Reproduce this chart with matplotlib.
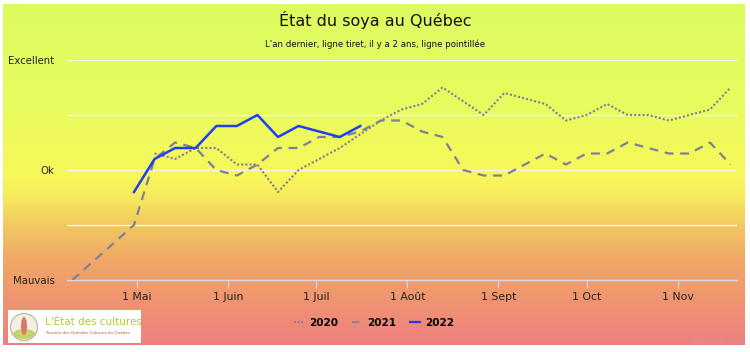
import numpy as np
import pandas as pd
import matplotlib
matplotlib.use("Agg")
import matplotlib.pyplot as plt
import matplotlib.dates as mdates
from matplotlib.colors import LinearSegmentedColormap
from matplotlib.lines import Line2D
from matplotlib.patches import Rectangle, Ellipse

plt.rcParams["font.family"] = ["DejaVu Sans"]

# -----------------------------------
# DATA (all years put on one common calendar)
# -----------------------------------

weeks = pd.date_range("2022-05-07", "2022-11-19", freq="7D")

dates_2020 = list(weeks)
vals_2020 = [2.3, 2.2, 2.4, 2.4, 2.1, 2.1, 1.6, 2.0, 2.2, 2.4, 2.65, 2.9, 3.1,
             3.2, 3.5, 3.25, 3.0, 3.4, 3.3, 3.2, 2.9, 3.0, 3.2, 3.0, 3.0, 2.9,
             3.0, 3.1, 3.5]

dates_2021 = [pd.Timestamp("2022-04-09"), pd.Timestamp("2022-04-30")] + list(weeks)
vals_2021 = [0.0, 1.0, 2.2, 2.5, 2.4, 2.0, 1.9, 2.1, 2.4, 2.4, 2.6, 2.6, 2.7,
             2.9, 2.9, 2.7, 2.6, 2.0, 1.9, 1.9, 2.1, 2.3, 2.1, 2.3, 2.3, 2.5,
             2.4, 2.3, 2.3, 2.5, 2.1]

dates_2022 = [pd.Timestamp("2022-04-30")] + list(weeks[:11])
vals_2022 = [1.6, 2.2, 2.4, 2.4, 2.8, 2.8, 3.0, 2.6, 2.8, 2.7, 2.6, 2.8]

month_ticks = ["2022-05-01", "2022-06-01", "2022-07-01", "2022-08-01",
               "2022-09-01", "2022-10-01", "2022-11-01"]
month_labels = ["1 Mai", "1 Juin", "1 Juil", "1 Août", "1 Sept", "1 Oct", "1 Nov"]

y_ticks = [0, 1, 2, 3, 4]
y_labels = ["Mauvais", "", "Ok", "", "Excellent"]

# -----------------------------------
# FIGURE + GRADIENT BACKGROUND
# -----------------------------------

W, H = 750, 352
fig = plt.figure(figsize=(W / 100, H / 100), dpi=100)
fig.patch.set_facecolor("white")

bg = fig.add_axes([3 / W, 7 / H, 742 / W, 341 / H])
cmap = LinearSegmentedColormap.from_list(
    "bg",
    [(0.0, "#dcfc60"), (0.3, "#e8fb5e"), (0.5, "#f8f85a"), (0.56, "#f7ec5c"),
     (0.65, "#f2c862"), (0.75, "#f0a866"), (0.87, "#ef9470"),
     (1.0, "#ee8080")],
)
grad = np.linspace(0, 1, 256).reshape(-1, 1)
bg.imshow(grad, aspect="auto", cmap=cmap, extent=[0, 1, 1, 0])
bg.set_xlim(0, 1)
bg.set_ylim(1, 0)
bg.axis("off")

# -----------------------------------
# MAIN PLOT
# -----------------------------------

ax = fig.add_axes([67 / W, (H - 280) / H, 670 / W, 220 / H])
ax.patch.set_alpha(0)

line_grey = "#7f7f9a"
ax.plot(dates_2020, vals_2020, color=line_grey, linestyle=(0, (1, 1)),
        linewidth=1.5, zorder=3)
ax.plot(dates_2021, vals_2021, color=line_grey, linestyle=(0, (4, 3)),
        linewidth=1.6, zorder=3)
ax.plot(dates_2022, vals_2022, color="#1f3ff0", linewidth=1.8, zorder=4)

x0 = mdates.date2num(pd.Timestamp("2022-04-07")) + 0.2
ax.set_xlim(x0, x0 + 228)
ax.set_ylim(0, 4)

ax.set_yticks(y_ticks)
ax.set_yticklabels(y_labels, fontsize=7.3, color="#222222")
ax.set_xticks([mdates.date2num(pd.Timestamp(d)) for d in month_ticks])
ax.set_xticklabels(month_labels, fontsize=7.8, color="#222222")
ax.tick_params(axis="y", length=0, pad=9)
ax.tick_params(axis="x", length=6, color="#d8d8e8", pad=3)

for y in y_ticks[1:]:
    ax.axhline(y, color="#f2f2f2", linewidth=1, zorder=1)
for s in ["top", "right", "left"]:
    ax.spines[s].set_visible(False)
ax.spines["bottom"].set_color("#d8d8e8")
ax.spines["bottom"].set_linewidth(1)

# -----------------------------------
# TEXT
# -----------------------------------

fig.text(375 / W, 1 - 20 / H, "État du soya au Québec", ha="center",
         va="center", fontsize=11.5, color="#111111")
fig.text(375 / W, 1 - 44 / H,
         "L'an dernier, ligne tiret, il y a 2 ans, ligne pointillée",
         ha="center", va="center", fontsize=6.2, color="#111111")

handles = [
    Line2D([], [], color=line_grey, linestyle=(0, (1, 1)), linewidth=1.3),
    Line2D([], [], color=line_grey, linestyle=(0, (4, 3)), linewidth=1.3),
    Line2D([], [], color="#1f3ff0", linewidth=1.6),
]
fig.legend(handles, ["2020", "2021", "2022"], loc="center",
           bbox_to_anchor=(374 / W, 1 - 323 / H), ncol=3, frameon=False,
           handlelength=0.9, handletextpad=0.5, columnspacing=1.4,
           prop={"size": 7.5, "weight": "bold"})

fig.text(741 / W, 1 - 341 / H, "Highcharts.com", ha="right", va="center",
         fontsize=4.5, color="#e09090")

# logo box
cx, cy = 24 / W, 1 - 327 / H
fig.patches.append(Rectangle((8 / W, 1 - 343 / H), 133 / W, 33 / H,
                             transform=fig.transFigure, facecolor="white",
                             edgecolor="none", zorder=5))
fig.patches.append(Ellipse((cx, cy), 27 / W, 27 / H,
                           transform=fig.transFigure, facecolor="#f4efe0",
                           edgecolor="#b8b0a0", linewidth=0.8, zorder=6))
fig.patches.append(Ellipse((cx, cy - 7 / H), 22 / W, 10 / H,
                           transform=fig.transFigure, facecolor="#c2d468",
                           edgecolor="none", zorder=7))
fig.patches.append(Ellipse((cx, cy + 1 / H), 6 / W, 18 / H,
                           transform=fig.transFigure, facecolor="#d87a68",
                           edgecolor="none", zorder=8))
fig.text(45 / W, 1 - 322 / H, "L'État des cultures", ha="left", va="center",
         fontsize=7.5, color="#b4c83c", zorder=9)
fig.text(45 / W, 1 - 332 / H, "Tournée des Grandes Cultures du Québec",
         ha="left", va="center", fontsize=3, color="#e04a28", zorder=9)

plt.savefig("out.png", dpi=100)
plt.close()
